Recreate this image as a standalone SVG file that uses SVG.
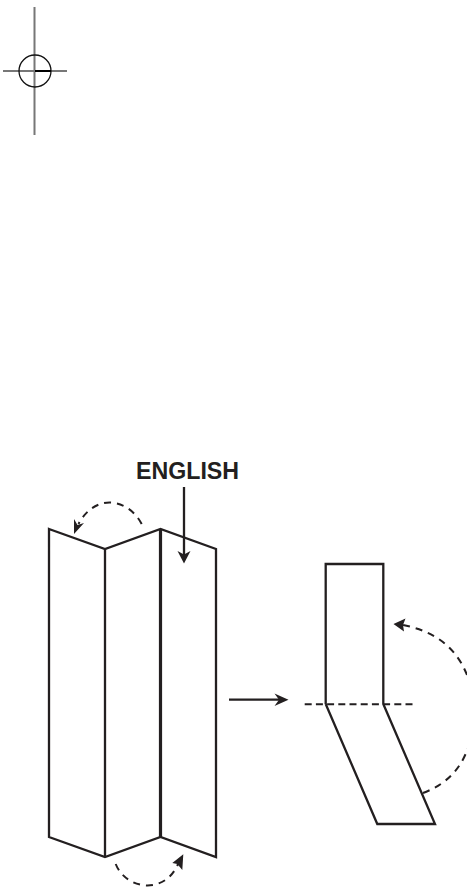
<svg xmlns="http://www.w3.org/2000/svg" width="467" height="888" viewBox="0 0 467 888">
<style>
.l{fill:none;stroke:#231f20;stroke-width:2.3}
.d{fill:none;stroke:#231f20;stroke-width:2;stroke-dasharray:7 6}
.h{fill:#231f20;stroke:none}
.t{font-family:"Liberation Sans",Arial,sans-serif;font-weight:bold;font-size:23.200px;fill:#231f20}
</style>
<rect width="467" height="888" fill="#fff"/>
<g id="registration-mark">
<path d="M34.5 7V135M3 71H67" fill="none" stroke="#777" stroke-width="2"/>
<circle cx="35" cy="71" r="16" fill="none" stroke="#111" stroke-width="1.3"/>
<path d="M35 71H51" stroke="#000" stroke-width="2"/>
</g>
<g id="folded-sheet">
<path class="l" d="M49 529L105 549L160.500 529L216 549V857L160.500 837L105 857L49 837Z"/>
<path class="l" d="M105 549V857"/>
<path class="l" style="stroke-width:3.200" d="M160.500 529V837"/>
</g>
<g id="label-english"><text class="t" x="136" y="478.500">ENGLISH</text></g>
<g id="folded-strip">
<path class="l" d="M325.700 704V564H383.300V704L435 824H377.300L325.700 704"/>
</g>
<g id="connectors">
<path class="l" d="M184 487V555"/>
<path class="h" d="M184 563.500L177.500 551L184 554.500L190.500 551Z"/>
<path class="l" d="M229 699.700H279"/>
<path class="h" d="M288.500 699.700L274.500 693.500L279 699.700L274.500 706Z"/>
<path class="d" style="stroke-dasharray:7 4.200" d="M304.700 704.300H414"/>
<path class="d" d="M141.700 524C128 498 95 493 78.500 524"/>
<path class="h" d="M74 534L74 519L77.500 525L84 523Z"/>
<path class="d" d="M115.700 864C126 890 165 895 178 864"/>
<path class="h" d="M183.300 854.300L172.300 863L177.300 864L182.300 870Z"/>
<path class="d" d="M423 793C450 783 462 765 468 748"/>
<path class="d" d="M467 675C454 642 428 630 403 625"/>
<path class="h" d="M393.500 624L405.500 618.500L403 625L404 631.500Z"/>
</g>
</svg>
